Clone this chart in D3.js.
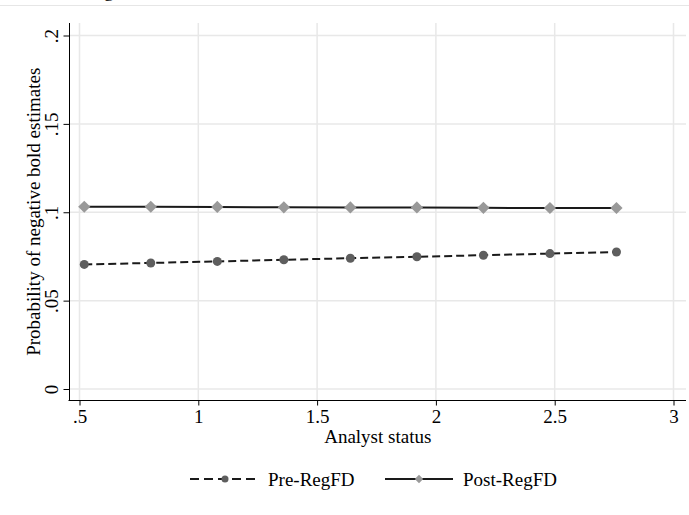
<!DOCTYPE html>
<html>
<head>
<meta charset="utf-8">
<script src="https://cdn.jsdelivr.net/npm/d3@7"></script>
<style>
  body { margin: 0; background: #fff; }
  text { font-family: "Liberation Serif", "Times New Roman", serif; fill: #000; }
</style>
</head>
<body>
<div id="viz"></div>
<script>
// data
const analystStatus = [0.52, 0.80, 1.08, 1.36, 1.64, 1.92, 2.20, 2.48, 2.76];
const preRegFD  = [0.0705, 0.0713, 0.0722, 0.0731, 0.0740, 0.0748, 0.0757, 0.0766, 0.0775];
const postRegFD = [0.1031, 0.1031, 0.1030, 0.1028, 0.1027, 0.1027, 0.1025, 0.1024, 0.1024];
const xTicks = [0.5, 1, 1.5, 2, 2.5, 3];
const xTickLabels = [".5", "1", "1.5", "2", "2.5", "3"];
const yTicks = [0, 0.05, 0.1, 0.15, 0.2];
const yTickLabels = ["0", ".05", ".1", ".15", ".2"];

var width = 689, height = 515;
var serif = '"Liberation Serif", "Times New Roman", serif';

var svg = d3.select("#viz").append("svg")
  .attr("width", width)
  .attr("height", height);

// title sits above the frame, only its descender shows
svg.append("text")
  .attr("x", 104).attr("y", -3)
  .style("font-size", "19px")
  .text("g");
svg.append("line")
  .attr("x1", 0).attr("x2", width)
  .attr("y1", 5.5).attr("y2", 5.5)
  .attr("stroke", "#e6e6e6").attr("stroke-width", 1.2);

const x = d3.scaleLinear().domain([0.5, 3]).range([79.5, 673.5]);
const y = d3.scaleLinear().domain([0, 0.2]).range([389, 35.5]);

// plot region edges
const plotL = 69.5, plotR = 686, plotT = 23, plotB = 400.5;

// grid
svg.append("g").selectAll("line")
  .data(xTicks).join("line")
  .attr("x1", d => x(d)).attr("x2", d => x(d))
  .attr("y1", plotT).attr("y2", plotB)
  .attr("stroke", "#e8e8e8").attr("stroke-width", 1.5);
svg.append("g").selectAll("line")
  .data(yTicks).join("line")
  .attr("x1", plotL).attr("x2", plotR)
  .attr("y1", d => y(d)).attr("y2", d => y(d))
  .attr("stroke", "#e8e8e8").attr("stroke-width", 1.5);

// x axis
var xAxis = svg.append("g")
  .attr("transform", "translate(0," + plotB + ")")
  .call(d3.axisBottom(x).tickValues(xTicks).tickSize(5)
    .tickFormat((d, i) => xTickLabels[i]))
  .attr("font-family", serif)
  .attr("font-size", 19);
xAxis.select(".domain").remove();
xAxis.selectAll(".tick line").attr("stroke", "#000");
xAxis.selectAll(".tick text")
  .attr("y", 9)
  .attr("fill", "#000");
svg.append("line")
  .attr("x1", plotL - 1).attr("x2", plotR)
  .attr("y1", plotB).attr("y2", plotB)
  .attr("stroke", "#000").attr("stroke-width", 1);

// y axis
var yAxis = svg.append("g")
  .attr("transform", "translate(" + plotL + ",0)")
  .call(d3.axisLeft(y).tickValues(yTicks).tickSize(6)
    .tickFormat((d, i) => yTickLabels[i]))
  .attr("font-family", serif)
  .attr("font-size", 19);
yAxis.select(".domain").remove();
yAxis.selectAll(".tick line").attr("stroke", "#000");
yAxis.selectAll(".tick text")
  .attr("x", null).attr("dy", null)
  .attr("text-anchor", "middle")
  .attr("fill", "#000")
  .attr("transform", "translate(-12,0) rotate(-90)");
svg.append("line")
  .attr("x1", plotL).attr("x2", plotL)
  .attr("y1", plotT).attr("y2", plotB)
  .attr("stroke", "#000").attr("stroke-width", 1);

// axis titles
svg.append("text")
  .attr("x", (plotL + plotR) / 2).attr("y", 443)
  .attr("text-anchor", "middle")
  .style("font-size", "19px")
  .text("Analyst status");
svg.append("text")
  .attr("transform", "translate(40," + ((plotT + plotB) / 2) + ") rotate(-90)")
  .attr("text-anchor", "middle")
  .style("font-size", "19px")
  .text("Probability of negative bold estimates");

var line = d3.line()
  .x((d, i) => x(analystStatus[i]))
  .y(d => y(d));

var diamond = d3.symbol().type(d3.symbolDiamond2);

// Post-RegFD
svg.append("path")
  .datum(postRegFD)
  .attr("fill", "none")
  .attr("stroke", "#1a1a1a")
  .attr("stroke-width", 2)
  .attr("d", line);
svg.append("g").selectAll("path")
  .data(postRegFD).join("path")
  .attr("transform", (d, i) => "translate(" + x(analystStatus[i]) + "," + y(d) + ")")
  .attr("d", diamond.size(95))
  .attr("fill", "#999999");

// Pre-RegFD
svg.append("path")
  .datum(preRegFD)
  .attr("fill", "none")
  .attr("stroke", "#1a1a1a")
  .attr("stroke-width", 2)
  .attr("stroke-dasharray", "8,4")
  .attr("d", line);
svg.append("g").selectAll("circle")
  .data(preRegFD).join("circle")
  .attr("cx", (d, i) => x(analystStatus[i]))
  .attr("cy", d => y(d))
  .attr("r", 4.5)
  .attr("fill", "#5e5e5e");

// legend
var leg = svg.append("g");
leg.append("line")
  .attr("x1", 190).attr("x2", 258).attr("y1", 479).attr("y2", 479)
  .attr("stroke", "#1a1a1a").attr("stroke-width", 2)
  .attr("stroke-dasharray", "9,5");
leg.append("circle")
  .attr("cx", 225).attr("cy", 479).attr("r", 3.5)
  .attr("fill", "#5e5e5e");
leg.append("text")
  .attr("x", 268).attr("y", 486)
  .style("font-size", "19px")
  .text("Pre-RegFD");
leg.append("line")
  .attr("x1", 385).attr("x2", 453).attr("y1", 479).attr("y2", 479)
  .attr("stroke", "#1a1a1a").attr("stroke-width", 2);
leg.append("path")
  .attr("transform", "translate(419,479)")
  .attr("d", diamond.size(45))
  .attr("fill", "#999999");
leg.append("text")
  .attr("x", 463).attr("y", 486)
  .style("font-size", "19px")
  .text("Post-RegFD");
</script>
</body>
</html>
